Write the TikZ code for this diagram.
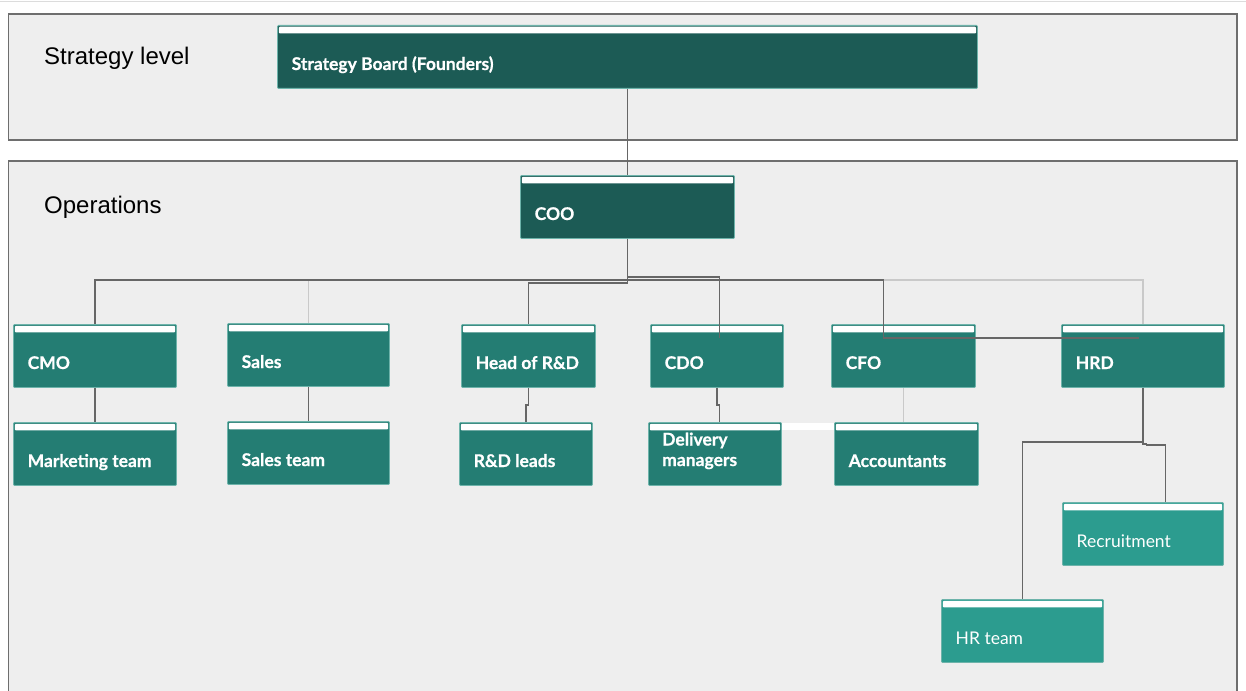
\documentclass[tikz,border=0pt]{standalone}
\usepackage{fontspec}
\setmainfont{Liberation Sans}
\newfontfamily\boxfont{Lato}[BoldFeatures={FakeBold=0.6}]
\usetikzlibrary{calc}

\definecolor{panelfill}{HTML}{EEEEEE}
\definecolor{panelline}{HTML}{6E6E6E}
\definecolor{rimline}{HTML}{DCDCDC}
\definecolor{topteal}{HTML}{1C5B55}
\definecolor{midteal}{HTML}{247D73}
\definecolor{lightteal}{HTML}{2C9C8F}
\definecolor{edgeteal}{HTML}{6DB3AA}
\definecolor{linkdark}{HTML}{666666}
\definecolor{linklight}{HTML}{C9C9C9}

\tikzset{
  panel/.style={fill=panelfill, draw=panelline, line width=1.3pt},
  paneltxt/.style={font=\fontsize{24}{28}\selectfont, text=black, inner sep=0pt, anchor=base west},
  orgbox/.style={draw=edgeteal, line width=0.9pt, rounded corners=1pt, inner sep=0pt,
    anchor=north west,
    path picture={\fill[white]
      ([shift={(1.3pt,-1.3pt)}]path picture bounding box.north west) rectangle
      ([shift={(-1.3pt,-8pt)}]path picture bounding box.north east);}},
  topbox/.style={orgbox, fill=topteal},
  midbox/.style={orgbox, fill=midteal},
  lightbox/.style={orgbox, fill=lightteal},
  boldtxt/.style={font=\boxfont\bfseries\fontsize{17.5}{20}\selectfont, text=white, inner sep=0pt, anchor=base west},
  plaintxt/.style={font=\boxfont\fontsize{17.5}{20}\selectfont, text=white, inner sep=0pt, anchor=base west},
  darklink/.style={draw=linkdark, line width=1.3pt},
  lightlink/.style={draw=linklight, line width=1.3pt},
}

% #1 name, #2 box style, #3 text style, #4..#7 corners (x1,y1,x2,y2), #8 text
\newcommand\orgnode[8]{%
  \node[#2, minimum width={#6-#4}, minimum height={#7-#5}] (#1) at (#4,#5) {};
  \node[#3] (#1-t) at ([shift={(14.5,45)}]#1.north west) {#8};}

\begin{document}
\begin{tikzpicture}[x=1pt, y=-1pt]
  \useasboundingbox (0,0) rectangle (1246,690);
  \fill[white] (0,0) rectangle (1246,690);
  \draw[rimline, line width=1.5pt] (0,1.5) -- (1246,1.5);

  % the two levels
  \draw[panel] (8.5,14) rectangle (1237,140);
  \draw[panel] (8.5,161) rectangle (1237,720);
  \node[paneltxt] (lvl-strategy) at (44,64.5) {Strategy level};
  \node[paneltxt] (lvl-ops) at (44,213.5) {Operations};

  % boxes
  \orgnode{sb}{topbox}{boldtxt}{277}{25}{977}{88}{Strategy Board (Founders)}
  \orgnode{coo}{topbox}{boldtxt}{520}{175}{734}{238}{COO}

  \orgnode{cmo}{midbox}{boldtxt}{13}{324}{176}{387}{CMO}
  \orgnode{sales}{midbox}{boldtxt}{227}{323}{389}{386}{Sales}
  \orgnode{rd}{midbox}{boldtxt}{461}{324}{595}{387}{Head of R\&D}
  \orgnode{cdo}{midbox}{boldtxt}{650}{324}{783}{387}{CDO}
  \orgnode{cfo}{midbox}{boldtxt}{831}{324}{975}{387}{CFO}
  \orgnode{hrd}{midbox}{boldtxt}{1061}{324}{1224}{387}{HRD}

  \orgnode{mkt}{midbox}{boldtxt}{13}{422}{176}{485}{Marketing team}
  \orgnode{st}{midbox}{boldtxt}{227}{421}{389}{484}{Sales team}
  \orgnode{rdl}{midbox}{boldtxt}{459}{422}{592}{485}{R\&D leads}
  \node[midbox, minimum width=133, minimum height=63] (dm) at (648,422) {};
  \node[boldtxt] (dm-t1) at ([shift={(14,23.5)}]dm.north west) {Delivery};
  \node[boldtxt] (dm-t2) at ([shift={(14,44)}]dm.north west) {managers};
  \orgnode{acc}{midbox}{boldtxt}{834}{422}{978}{485}{Accountants}

  \orgnode{rec}{lightbox}{plaintxt}{1062}{502}{1223}{565}{Recruitment}
  \orgnode{hrt}{lightbox}{plaintxt}{941}{599}{1103}{662}{HR team}

  % routing levels
  \coordinate (busA) at (0,277);
  \coordinate (busB) at (0,280);
  \coordinate (busC) at (0,283);
  \coordinate (rowgap) at (0,405);
  \coordinate (hrgap) at (0,442);
  \coordinate (hrgapb) at (0,444);
  \coordinate (joinbar) at (0,426.5);
  \coordinate (cdo-in) at ([shift={(2.5,14)}]cdo.north);
  \coordinate (cfo-in) at ([shift={(-20,14)}]cfo.north);
  \coordinate (hrd-in) at ([shift={(-3.5,14)}]hrd.north);
  \coordinate (dm-in) at ([xshift=4.5pt]dm.north);
  \coordinate (rec-in) at ([xshift=22.5pt]rec.north);

  % faint links
  \draw[lightlink] (coo.south) |- (sales.north |- busB) -- (sales.north);
  \draw[lightlink] (coo.south) |- (hrd.north |- busB) -- (hrd.north);
  \draw[lightlink] (cfo.south) -- (cfo.south |- acc.north);
  \draw[white, line width=7pt] (dm.east |- joinbar) -- (acc.west |- joinbar);

  % reporting lines
  \draw[darklink] (sb.south) -- (coo.north);
  \draw[darklink] (coo.south) |- (cmo.north |- busB) -- (cmo.north);
  \draw[darklink] (coo.south) |- (rd.north |- busC) -- (rd.north);
  \draw[darklink] (coo.south) |- (cdo-in |- busA) -- (cdo-in);
  \draw[darklink] (coo.south) |- (cfo-in |- busB) -- (cfo-in) -- (hrd-in);
  \draw[darklink] (cmo.south) -- (mkt.north);
  \draw[darklink] (sales.south) -- (st.north);
  \draw[darklink] (rd.south) -- (rd.south |- rowgap) -- (rdl.north |- rowgap) -- (rdl.north);
  \draw[darklink] (cdo.south) -- (cdo.south |- rowgap) -- (dm-in |- rowgap) -- (dm-in);
  \draw[darklink] (hrd.south) -- (hrd.south |- hrgap) -| (hrt.north);
  \draw[darklink] (hrd.south) -- (hrd.south |- hrgapb) -- ++(3.5,0) -- ++(0,1) -| (rec-in);
\end{tikzpicture}
\end{document}
